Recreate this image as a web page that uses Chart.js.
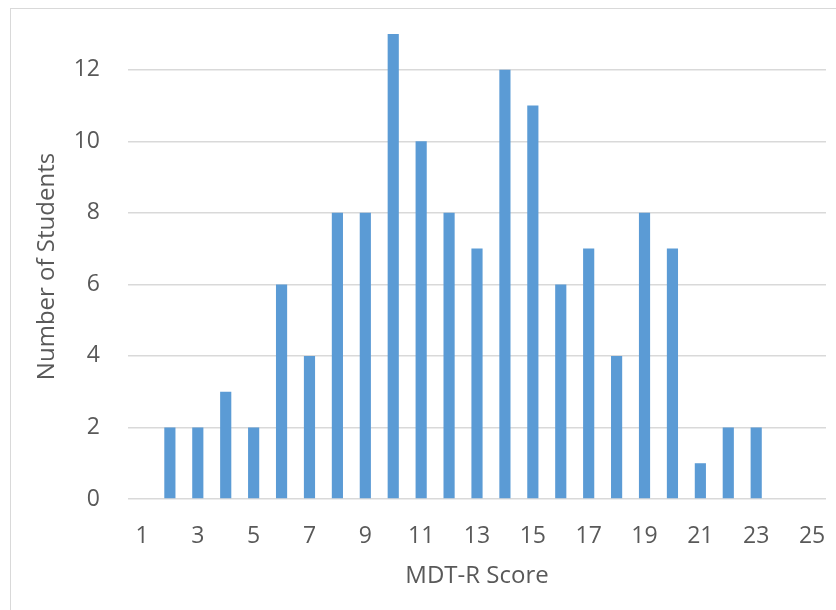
<!DOCTYPE html>
<html>
<head>
<meta charset="utf-8">
<script src="https://cdn.jsdelivr.net/npm/chart.js@4.4.0/dist/chart.umd.min.js"></script>
<style>
  body { margin: 0; background: #fff; }
  #wrap { position: relative; width: 836px; height: 610px; overflow: hidden; }
  #frame { position: absolute; left: 10px; top: 8px; width: 840px; height: 620px; border: 1px solid #d9d9d9; box-sizing: border-box; }
  canvas { position: absolute; left: 0; top: 0; }
</style>
</head>
<body>
<div id="wrap">
  <div id="frame"></div>
  <canvas id="barChart" width="836" height="610"></canvas>
</div>
<script>
const scores = ['1','2','3','4','5','6','7','8','9','10','11','12','13','14','15','16','17','18','19','20','21','22','23','24','25'];
const students = [0, 2, 2, 3, 2, 6, 4, 8, 8, 13, 10, 8, 7, 12, 11, 6, 7, 4, 8, 7, 1, 2, 2, 0, 0];
const yTicks = [0, 2, 4, 6, 8, 10, 12];

const font = "'Open Sans', sans-serif";
const grey = '#595959';
const clear = 'rgba(0,0,0,0)';

const ctx = document.getElementById('barChart').getContext('2d');
const chart = new Chart(ctx, {
    type: 'bar',
    data: {
        labels: scores,
        datasets: [{
            label: 'Number of Students',
            data: students,
            backgroundColor: '#5b9bd5',
            barPercentage: 0.4,
            categoryPercentage: 1.0
        }]
    },
    options: {
        responsive: false,
        animation: false,
        layout: { padding: { top: 34, right: 10, left: 0, bottom: 0 } },
        plugins: { legend: { display: false }, tooltip: { enabled: false } },
        scales: {
            x: {
                // tick marks are invisible, only used to push the labels down
                grid: { drawOnChartArea: false, drawTicks: true, tickLength: 21, tickColor: clear },
                border: { display: false },
                ticks: {
                    autoSkip: false,
                    maxRotation: 0,
                    color: grey,
                    font: { family: font, size: 23 },
                    padding: 3,
                    callback: function (v, i) { return i % 2 === 0 ? scores[i] : ''; }
                },
                title: {
                    display: true,
                    text: 'MDT-R Score',
                    color: grey,
                    font: { family: font, size: 24 },
                    padding: { top: 0, bottom: 19 }
                },
                afterFit: function (s) { s.height = 111; }
            },
            y: {
                min: 0,
                max: 13,
                grid: { color: '#d9d9d9', lineWidth: 1.5, drawTicks: true, tickLength: 26, tickColor: clear },
                border: { display: false },
                afterBuildTicks: function (s) { s.ticks = yTicks.map(v => ({ value: v })); },
                ticks: {
                    color: grey,
                    font: { family: font, size: 23 },
                    padding: 2
                },
                title: {
                    display: true,
                    text: 'Number of Students',
                    color: grey,
                    font: { family: font, size: 24 },
                    padding: { top: 33, bottom: 0 }
                },
                afterFit: function (s) { s.width = 128; }
            }
        }
    }
});
</script>
</body>
</html>
